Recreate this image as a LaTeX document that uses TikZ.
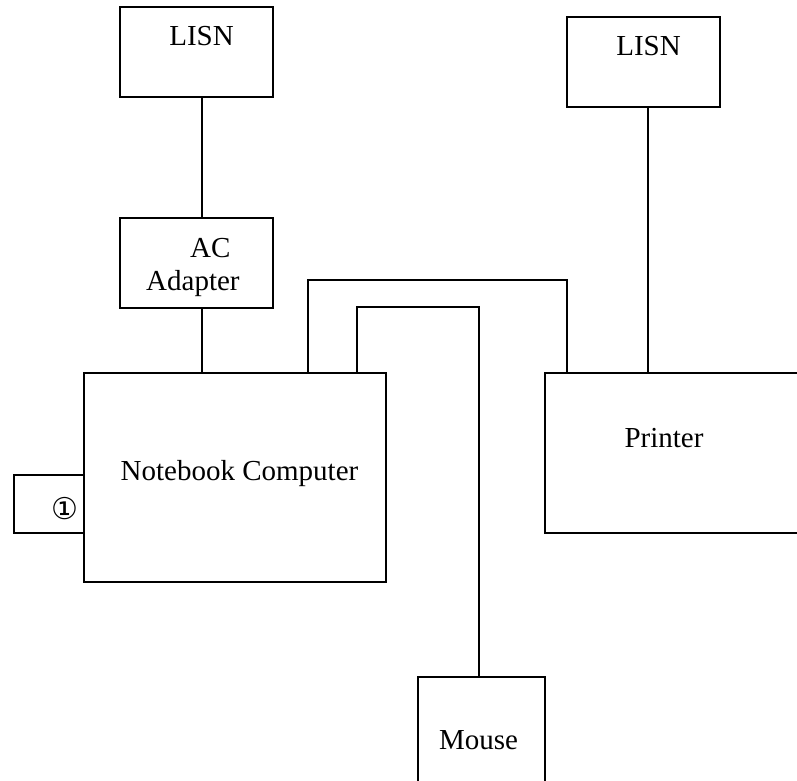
\documentclass[tikz,border=0pt]{standalone}
\usepackage{fontspec}
\setmainfont{Liberation Serif}
\newfontfamily\symfont{DejaVu Sans}
\usepackage{tikz}

\begin{document}
\begin{tikzpicture}[x=1pt, y=-1pt, line width=1.8pt,
    every node/.style={font=\fontsize{29}{33}\selectfont},
    box/.style={draw, rectangle, inner sep=0pt}]
  \clip (0,0) rectangle (797,780);
  % boxes
  \node[box, minimum width=153, minimum height=90] (lisnL) at (196.5,52) {};
  \node[box, minimum width=153, minimum height=90] (lisnR) at (643.5,62) {};
  \node[box, minimum width=153, minimum height=90] (adapter) at (196.5,263) {};
  \node[box, minimum width=302, minimum height=209] (notebook) at (235,477.5) {};
  \node[box, minimum width=70, minimum height=58] (port) at (49,504) {};
  \node[box, minimum width=275, minimum height=160] (printer) at (682.5,453) {};
  \node[box, minimum width=127, minimum height=153] (mouse) at (481.5,753.5) {};
  % labels
  \node[anchor=base] (lisnLtxt) at (201.5,45) {LISN};
  \node[anchor=base] (lisnRtxt) at (648.5,55) {LISN};
  \node[anchor=base west] (actxt) at (186,257) {AC};
  \node[anchor=base west] (adaptertxt) at (142,290) {Adapter};
  \node[anchor=base] (notebooktxt) at (239.5,480) {Notebook Computer};
  \node (porttxt) at (64.5,509) {\symfont\fontsize{30}{34}\selectfont ①};
  \node[anchor=base] (printertxt) at (664,447) {Printer};
  \node[anchor=base] (mousetxt) at (478.5,749) {Mouse};
  % cables
  \draw ([xshift=5.5pt]lisnL.south) -- ([xshift=5.5pt]adapter.north);
  \draw ([xshift=5.5pt]adapter.south) -- ([xshift=5.5pt]adapter.south |- notebook.north);
  \draw ([xshift=4.5pt]lisnR.south) -- ([xshift=4.5pt]lisnR.south |- printer.north);
  \draw ([xshift=73pt]notebook.north) -- ++(0,-92) -| ([xshift=-115.5pt]printer.north);
  \draw ([xshift=122pt]notebook.north) -- ++(0,-65) -| ([xshift=-2.5pt]mouse.north);
\end{tikzpicture}
\end{document}
